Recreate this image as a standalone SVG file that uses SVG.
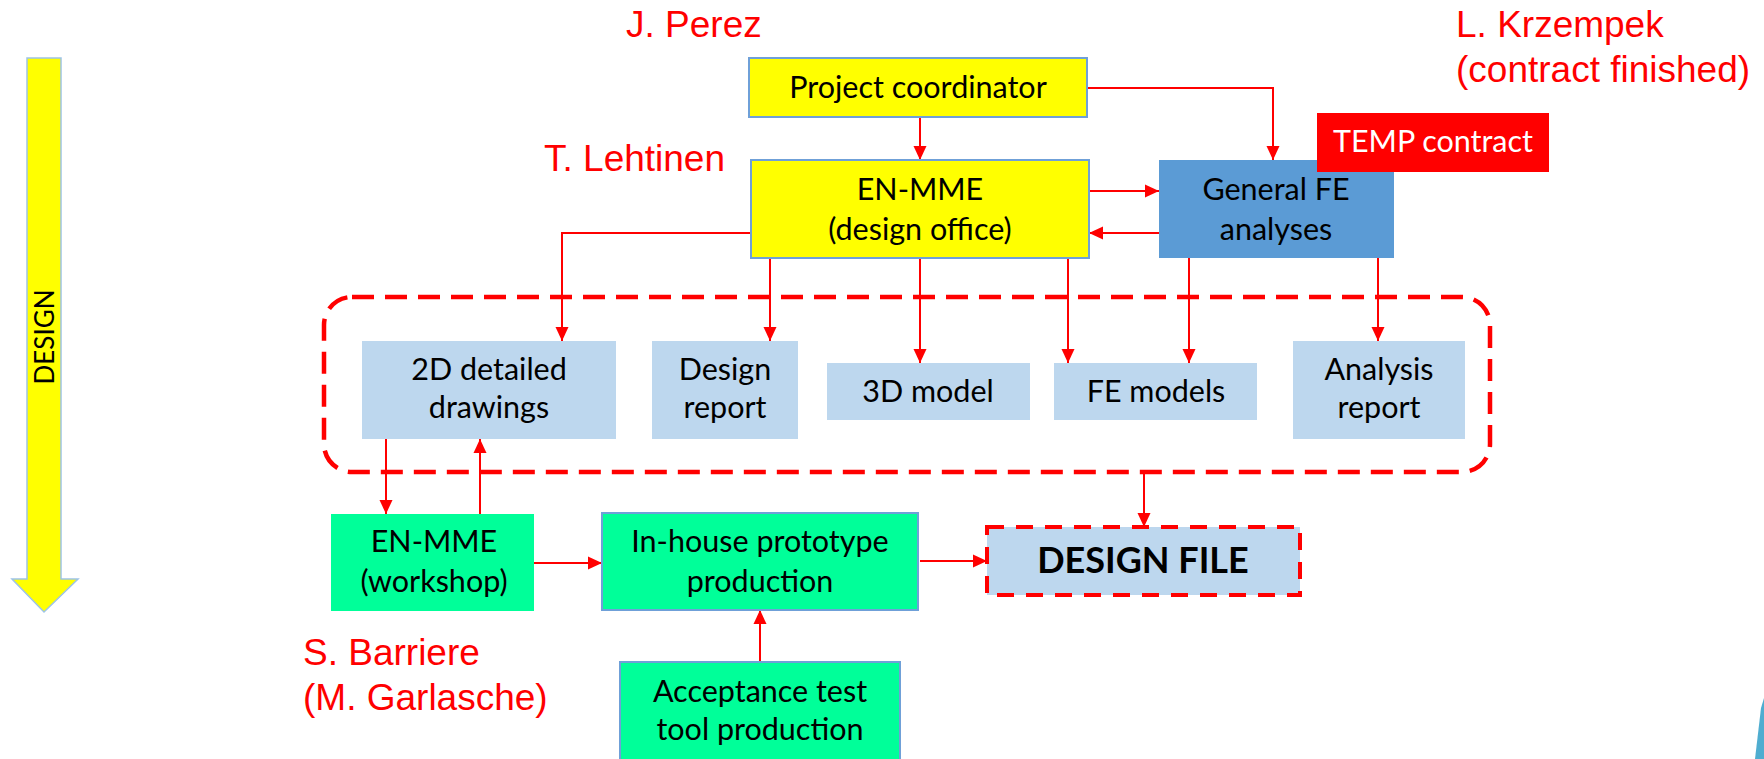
<svg xmlns="http://www.w3.org/2000/svg" width="1764" height="759" viewBox="0 0 1764 759">
<style>
.lbl{font-family:"Liberation Sans",Arial,sans-serif;font-size:37px;fill:#FF0000}
.t{font-family:Lato,"Open Sans",sans-serif;font-size:30.5px;fill:#000;text-anchor:middle}
.yel{fill:#FFFF00;stroke:#6FA0D8;stroke-width:2}
.lb{fill:#BDD7EE}
.gr{fill:#00FF99}
.grb{fill:#00FF99;stroke:#6FA0D8;stroke-width:2}
.c{fill:none;stroke:#FF0000;stroke-width:2}
</style>
<defs>
<marker id="ah" markerUnits="userSpaceOnUse" markerWidth="15" markerHeight="15" refX="14" refY="7.5" orient="auto">
<path d="M0,1 L14,7.5 L0,14 Z" fill="#FF0000"/>
</marker>
</defs>
<rect width="1764" height="759" fill="#FFFFFF"/>

<g id="design-arrow">
<polygon points="27,58 61,58 61,579 78,579 44,612 12,579 27,579" fill="#FFFF00" stroke="#9DC3E6" stroke-width="1.5"/>
<text transform="translate(44,337) rotate(-90)" font-family="Lato,sans-serif" font-size="26" text-anchor="middle" dominant-baseline="central">DESIGN</text>
</g>

<g id="labels">
<text class="lbl" x="626" y="37">J. Perez</text>
<text class="lbl" x="544" y="171">T. Lehtinen</text>
<text class="lbl" x="1456" y="37">L. Krzempek</text>
<text class="lbl" x="1456" y="82">(contract finished)</text>
<text class="lbl" x="303" y="665">S. Barriere</text>
<text class="lbl" x="303" y="710">(M. Garlasche)</text>
</g>

<g id="connectors">
<path class="c" d="M920,117 V160" marker-end="url(#ah)"/>
<path class="c" d="M1087,88 H1273 V160" marker-end="url(#ah)"/>
<path class="c" d="M1089,191 H1159" marker-end="url(#ah)"/>
<path class="c" d="M1159,233 H1089" marker-end="url(#ah)"/>
<path class="c" d="M751,233 H562 V341" marker-end="url(#ah)"/>
<path class="c" d="M770,258 V341" marker-end="url(#ah)"/>
<path class="c" d="M920,258 V363" marker-end="url(#ah)"/>
<path class="c" d="M1068,258 V363" marker-end="url(#ah)"/>
<path class="c" d="M1189,258 V363" marker-end="url(#ah)"/>
<path class="c" d="M1378,258 V341" marker-end="url(#ah)"/>
<path class="c" d="M386,439 V514" marker-end="url(#ah)"/>
<path class="c" d="M480,514 V439" marker-end="url(#ah)"/>
<path class="c" d="M534,563 H602" marker-end="url(#ah)"/>
<path class="c" d="M760,662 V610" marker-end="url(#ah)"/>
<path class="c" d="M920,561 H987" marker-end="url(#ah)"/>
<path class="c" d="M1144,472 V527" marker-end="url(#ah)"/>
</g>

<g id="group-outputs">
<rect x="324" y="297" width="1166" height="175" rx="28" fill="none" stroke="#FF0000" stroke-width="4.5" stroke-dasharray="22 11"/>
</g>

<g id="project-coordinator">
<rect class="yel" x="749" y="58" width="338" height="59"/>
<text class="t" x="918" y="98">Project coordinator</text>
</g>

<g id="en-mme-design">
<rect class="yel" x="751" y="160" width="338" height="98"/>
<text class="t" x="920" y="200">EN-MME</text>
<text class="t" x="920" y="240">(design office)</text>
</g>

<g id="general-fe">
<rect x="1159" y="160" width="235" height="98" fill="#5B9BD5"/>
<text class="t" x="1276" y="200">General FE</text>
<text class="t" x="1276" y="240">analyses</text>
</g>

<g id="temp-contract">
<rect x="1317" y="113" width="232" height="59" fill="#FF0000"/>
<text class="t" x="1433" y="152" style="fill:#FFFFFF">TEMP contract</text>
</g>

<g id="drawings-2d">
<rect class="lb" x="362" y="341" width="254" height="98"/>
<text class="t" x="489" y="380">2D detailed</text>
<text class="t" x="489" y="418">drawings</text>
</g>

<g id="design-report">
<rect class="lb" x="652" y="341" width="146" height="98"/>
<text class="t" x="725" y="380">Design</text>
<text class="t" x="725" y="418">report</text>
</g>

<g id="model-3d">
<rect class="lb" x="827" y="363" width="203" height="57"/>
<text class="t" x="928" y="402">3D model</text>
</g>

<g id="fe-models">
<rect class="lb" x="1054" y="363" width="203" height="57"/>
<text class="t" x="1156" y="402">FE models</text>
</g>

<g id="analysis-report">
<rect class="lb" x="1293" y="341" width="172" height="98"/>
<text class="t" x="1379" y="380">Analysis</text>
<text class="t" x="1379" y="418">report</text>
</g>

<g id="en-mme-workshop">
<rect class="gr" x="331" y="514" width="203" height="97"/>
<text class="t" x="434" y="552">EN-MME</text>
<text class="t" x="434" y="592">(workshop)</text>
</g>

<g id="in-house-prototype">
<rect class="grb" x="602" y="513" width="316" height="97"/>
<text class="t" x="760" y="552">In-house prototype</text>
<text class="t" x="760" y="592">production</text>
</g>

<g id="acceptance-test">
<rect class="grb" x="620" y="662" width="280" height="110"/>
<text class="t" x="760" y="702">Acceptance test</text>
<text class="t" x="760" y="740">tool production</text>
</g>

<g id="design-file">
<rect x="987" y="527" width="313" height="68" fill="#BDD7EE" stroke="#FF0000" stroke-width="4" stroke-dasharray="17 12"/>
<text class="t" x="1143" y="573" style="font-weight:bold;font-size:36px">DESIGN FILE</text>
</g>

<g id="corner-shape">
<polygon points="1764,698 1764,759 1755,759 1761,708" fill="#4FADD0"/>
</g>
</svg>
